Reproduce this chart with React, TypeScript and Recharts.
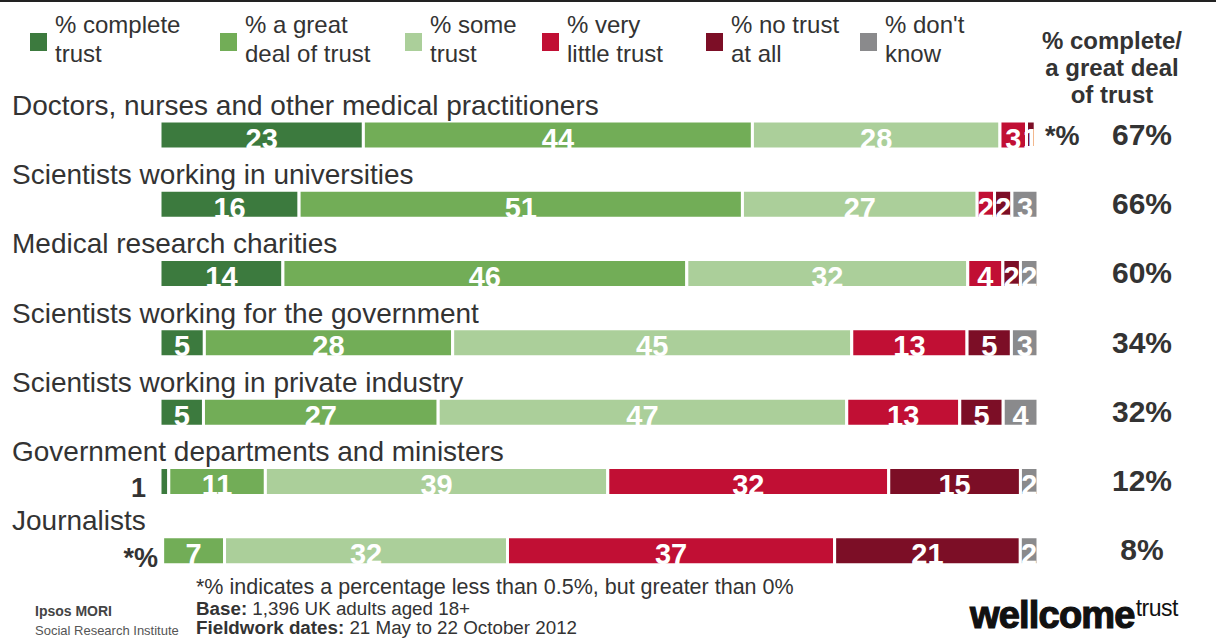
import { BarChart, Bar, XAxis, YAxis, LabelList } from 'recharts'

const categories = [
  'Doctors, nurses and other medical practitioners',
  'Scientists working in universities',
  'Medical research charities',
  'Scientists working for the government',
  'Scientists working in private industry',
  'Government departments and ministers',
  'Journalists',
]

// 0.3 stands for "*%" (less than 0.5% but more than 0)
const completeTrust = [23, 16, 14, 5, 5, 1, 0.3]
const greatDeal = [44, 51, 46, 28, 27, 11, 7]
const someTrust = [28, 27, 32, 45, 47, 39, 32]
const veryLittle = [3, 2, 4, 13, 13, 32, 37]
const noTrust = [1, 2, 2, 5, 5, 15, 21]
const dontKnow = [0.3, 3, 2, 3, 4, 2, 2]
const trustTotals = [67, 66, 60, 34, 32, 12, 8]

const SERIES = [
  { key: 'complete', name: '% complete trust', lines: ['% complete', 'trust'], values: completeTrust, color: '#3c7a3e', legendX: 30 },
  { key: 'great', name: '% a great deal of trust', lines: ['% a great', 'deal of trust'], values: greatDeal, color: '#72ad57', legendX: 220 },
  { key: 'some', name: '% some trust', lines: ['% some', 'trust'], values: someTrust, color: '#abcf9a', legendX: 405 },
  { key: 'little', name: '% very little trust', lines: ['% very', 'little trust'], values: veryLittle, color: '#c10f34', legendX: 542 },
  { key: 'none', name: '% no trust at all', lines: ['% no trust', 'at all'], values: noTrust, color: '#7c0e26', legendX: 706 },
  { key: 'dk', name: "% don't know", lines: ['% don\'t', 'know'], values: dontKnow, color: '#8a8a8c', legendX: 860 },
]

const data = categories.map((name, i) => {
  const row: any = { name }
  SERIES.forEach((s) => (row[s.key] = s.values[i]))
  return row
})

const FONT = '"Liberation Sans", Arial, sans-serif'
const TEXT = '#333333'

function makeLabel(seriesIdx: number) {
  return function SegmentLabel({ x, y, width, height, index }: any) {
    const v = SERIES[seriesIdx].values[index]
    const base = y + height
    if (seriesIdx === 0 && v < 3) {
      const star = v < 0.5
      return (
        <text x={x - (star ? 2 : 14)} y={base + 2} textAnchor="end" fontSize={27} fontWeight={700} fill={TEXT} fontFamily={FONT}>
          {star ? '*%' : v}
        </text>
      )
    }
    if (v < 0.5) {
      return (
        <text x={x + width + 7} y={base - 4} textAnchor="start" fontSize={27} fontWeight={700} fill={TEXT} fontFamily={FONT}>
          *%
        </text>
      )
    }
    return (
      <text x={x + width / 2} y={base - 0.5} textAnchor="middle" fontSize={29} fontWeight={700} fill="#fff" fontFamily={FONT}>
        {v}
      </text>
    )
  }
}

function RowTick({ y, payload, index }: any) {
  return (
    <g>
      <text x={12} y={y - 20} fontSize={28} fill={TEXT} fontFamily={FONT}>
        {payload.value}
      </text>
      <text x={1142} y={y + 10} textAnchor="middle" fontSize={30} fontWeight={700} fill={TEXT} fontFamily={FONT}>
        {trustTotals[index]}%
      </text>
    </g>
  )
}

export default function App() {
  return (
    <div style={{ position: 'absolute', left: 0, top: 0, width: 1216, height: 641, background: '#fff', fontFamily: FONT, color: TEXT }}>
      <div style={{ position: 'absolute', left: 0, top: 0, width: 1216, height: 2, background: '#222' }} />
      {SERIES.map((s) => (
        <div key={s.key}>
          <div style={{ position: 'absolute', left: s.legendX, top: 33, width: 17, height: 18, background: s.color }} />
          <div style={{ position: 'absolute', left: s.legendX + 25, top: 10, fontSize: 24, lineHeight: '29px', whiteSpace: 'nowrap' }}>
            {s.lines[0]}
            <br />
            {s.lines[1]}
          </div>
        </div>
      ))}
      <div style={{ position: 'absolute', left: 1012, width: 200, top: 27, fontSize: 24, fontWeight: 700, lineHeight: '27px', textAlign: 'center' }}>
        % complete/
        <br />a great deal
        <br />of trust
      </div>

      <BarChart
        width={1216}
        height={641}
        data={data}
        layout="vertical"
        stackOffset="expand"
        margin={{ top: 100, right: 178, bottom: 56, left: 0 }}
        style={{ position: 'absolute', left: 0, top: 0 }}
      >
        <XAxis type="number" hide domain={[0, 1]} />
        <YAxis type="category" dataKey="name" width={160} axisLine={false} tickLine={false} interval={0} tick={<RowTick />} />
        {SERIES.map((s, i) => (
          <Bar key={s.key} dataKey={s.key} name={s.name} stackId="a" fill={s.color} stroke="#fff" strokeWidth={3} barSize={28} isAnimationActive={false}>
            <LabelList dataKey={s.key} content={makeLabel(i)} />
          </Bar>
        ))}
      </BarChart>

      <div style={{ position: 'absolute', left: 196, top: 575, fontSize: 21.5, whiteSpace: 'nowrap' }}>
        *% indicates a percentage less than 0.5%, but greater than 0%
      </div>
      <div style={{ position: 'absolute', left: 196, top: 598, fontSize: 18.8, whiteSpace: 'nowrap' }}>
        <b>Base:</b> 1,396 UK adults aged 18+
      </div>
      <div style={{ position: 'absolute', left: 196, top: 617, fontSize: 18.8, whiteSpace: 'nowrap' }}>
        <b>Fieldwork dates:</b> 21 May to 22 October 2012
      </div>
      <div style={{ position: 'absolute', left: 35, top: 603, fontSize: 14, fontWeight: 700, color: '#444', whiteSpace: 'nowrap' }}>Ipsos MORI</div>
      <div style={{ position: 'absolute', left: 35, top: 623, fontSize: 13, color: '#555', whiteSpace: 'nowrap' }}>Social Research Institute</div>
      <div style={{ position: 'absolute', left: 970, top: 594, whiteSpace: 'nowrap', color: '#111' }}>
        <span style={{ fontSize: 38, fontWeight: 700, letterSpacing: -0.8, WebkitTextStroke: '1.2px #111' }}>wellcome</span>
        <span style={{ fontSize: 23, verticalAlign: 12, letterSpacing: -0.5, marginLeft: 1 }}>trust</span>
      </div>
    </div>
  )
}
